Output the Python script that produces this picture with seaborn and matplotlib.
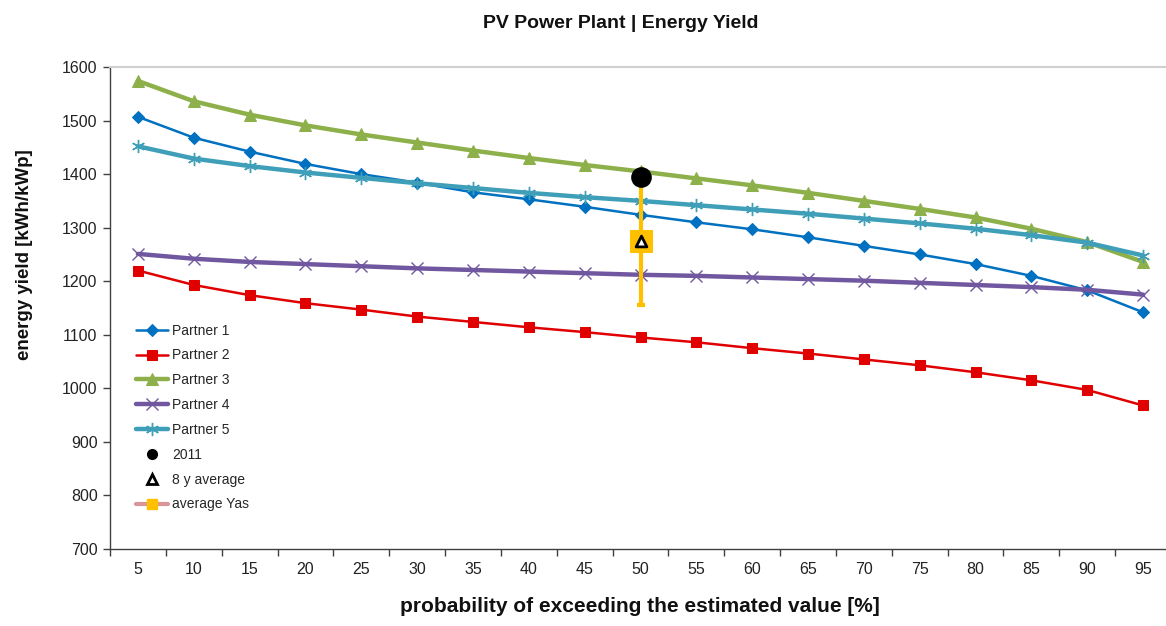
import numpy as np
import pandas as pd
import matplotlib
matplotlib.use("Agg")
import matplotlib.pyplot as plt
from matplotlib.lines import Line2D
import seaborn as sns

# ---- data ----
categories = [5, 10, 15, 20, 25, 30, 35, 40, 45, 50, 55, 60, 65, 70, 75, 80, 85, 90, 95]
partner1 = [1507, 1468, 1442, 1419, 1400, 1384, 1366, 1353, 1339, 1324, 1310, 1297, 1282, 1266, 1250, 1232, 1210, 1183, 1142]
partner2 = [1220, 1193, 1174, 1159, 1147, 1134, 1124, 1114, 1105, 1095, 1086, 1075, 1065, 1054, 1043, 1030, 1015, 997, 968]
partner3 = [1574, 1536, 1511, 1491, 1474, 1459, 1444, 1430, 1417, 1405, 1392, 1379, 1365, 1350, 1335, 1319, 1298, 1273, 1236]
partner4 = [1251, 1242, 1236, 1232, 1228, 1224, 1221, 1218, 1215, 1212, 1210, 1207, 1204, 1201, 1197, 1193, 1189, 1184, 1175]
partner5 = [1452, 1429, 1415, 1403, 1393, 1383, 1374, 1365, 1357, 1350, 1342, 1334, 1326, 1317, 1308, 1298, 1286, 1272, 1248]
val_2011 = 1394
avg_8y = 1275
avg_yas = 1275
avg_yas_err = 120
point_category = 50

sns.set_theme(style="white")
plt.rcParams['font.family'] = ['Liberation Sans', 'DejaVu Sans']

fig = plt.figure(figsize=(11.66, 6.26), dpi=100)
ax = fig.add_axes([110/1166, 77/626, 1061/1166, 482/626])

idx = list(range(len(categories)))
series = [
    ("Partner 1", partner1, "#0070C0", "D", 6.5, 1.8, dict()),
    ("Partner 2", partner2, "#E00000", "s", 6.5, 1.8, dict()),
    ("Partner 3", partner3, "#8DB04A", "^", 8.5, 3.2, dict()),
    ("Partner 4", partner4, "#7057A0", "x", 8.5, 3.2, dict(markeredgewidth=1.0)),
    ("Partner 5", partner5, "#3F9FB8", (6, 2, 0), 9.5, 3.2, dict(markeredgewidth=1.0)),
]
for name, vals, col, mk, ms, lw, extra in series:
    sns.lineplot(x=idx, y=vals, ax=ax, color=col, marker=mk, markersize=ms,
                 linewidth=lw, markeredgecolor=col, label=name, **extra)

pi = categories.index(point_category)
# average Yas with error bar
ax.errorbar([pi], [avg_yas], yerr=[avg_yas_err], fmt="none", ecolor="#FFC000",
            elinewidth=3, capsize=3, capthick=3, zorder=5)
sns.scatterplot(x=[pi], y=[val_2011], ax=ax, color="black", s=190, marker="o",
                edgecolor="black", zorder=6, label="2011")
sns.lineplot(x=[pi], y=[avg_yas], ax=ax, color="#D99694", marker="s", markersize=16,
             markerfacecolor="#FFC000", markeredgecolor="#FFC000", linewidth=3,
             label="average Yas", zorder=6)
sns.scatterplot(x=[pi], y=[avg_8y], ax=ax, color="white", s=60, marker="^",
                edgecolor="black", linewidth=2, zorder=7, label="8 y average")

# legend ordering
h, l = ax.get_legend_handles_labels()
order = ["Partner 1", "Partner 2", "Partner 3", "Partner 4", "Partner 5", "2011", "8 y average", "average Yas"]
hd = dict(zip(l, h))
hd["average Yas"] = Line2D([], [], color="#D99694", linewidth=3, marker="s",
                           markersize=7, markerfacecolor="#FFC000", markeredgecolor="#FFC000")
hd["2011"] = Line2D([], [], linestyle="none", marker="o", markersize=7, color="black")
hd["8 y average"] = Line2D([], [], linestyle="none", marker="^", markersize=7,
                           markerfacecolor="white", markeredgecolor="black", markeredgewidth=2)
leg = ax.legend([hd[k] for k in order], order, loc="upper left",
                bbox_to_anchor=(0.017, 0.485), frameon=False, fontsize=10,
                handlelength=2.3, handletextpad=0.25, labelspacing=0.78,
                borderaxespad=0.2)

ax.set_xlim(-0.5, len(categories) - 0.5)
ax.set_ylim(700, 1600)
ax.set_yticks(range(700, 1601, 100))
ax.set_xticks(idx)
ax.set_xticklabels([str(c) for c in categories])
ax.set_xticks([i - 0.5 for i in range(len(categories) + 1)], minor=True)
ax.tick_params(axis="x", which="major", length=0, pad=9, labelsize=11.5, colors="#222222")
ax.tick_params(axis="x", which="minor", length=5, width=1, color="#404040", direction="out", bottom=True)
ax.tick_params(axis="y", which="major", length=5, width=1, color="#404040", direction="out",
               left=True, pad=4, labelsize=11.5, labelcolor="#222222")

for s in ["left", "bottom"]:
    ax.spines[s].set_color("#404040")
    ax.spines[s].set_linewidth(1.0)
ax.spines["top"].set_color("#D0D0D0")
ax.spines["top"].set_linewidth(1.5)
ax.spines["right"].set_visible(False)

ax.set_xlabel("probability of exceeding the estimated value [%]", fontsize=15,
              fontweight="bold", color="#111111")
ax.xaxis.set_label_coords((640 - 110) / 1061, (549 - 597) / 482)
ax.set_ylabel("energy yield [kWh/kWp]", fontsize=13.5, fontweight="bold", color="#111111")
ax.yaxis.set_label_coords((33 - 110) / 1061, (549 - 255) / 482)
fig.text(621/1166, 1 - 24/626, "PV Power Plant | Energy Yield", ha="center", va="center",
         fontsize=14, fontweight="bold", color="#111111")

fig.savefig("out.png", dpi=100)
